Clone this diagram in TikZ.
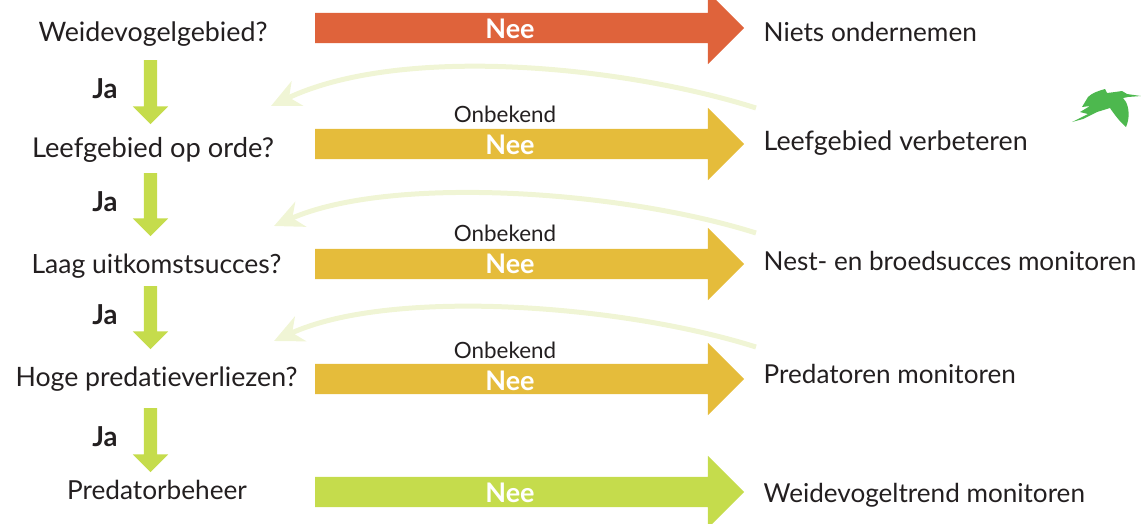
\documentclass[tikz,border=0pt]{standalone}
\usepackage{fontspec}
\setmainfont[Ligatures=NoCommon]{Lato}
\usetikzlibrary{shapes.arrows,arrows.meta}
\definecolor{ink}{HTML}{231F20}
\definecolor{redc}{HTML}{DF633B}
\definecolor{yelc}{HTML}{E5BC3B}
\definecolor{grnc}{HTML}{C5DC4C}
\definecolor{palec}{HTML}{F0F5D5}
\definecolor{birdc}{HTML}{4DB84E}
\tikzset{
  x=1pt,y=-1pt,
  q/.style={anchor=base,text=ink,font=\fontsize{#1}{30}\selectfont,inner sep=0pt},
  ql/.style={anchor=base west,text=ink,font=\fontsize{#1}{30}\selectfont,inner sep=0pt},
  ql/.default=26.1,
  ja/.style={anchor=base,text=ink,font=\fontsize{27.5}{30}\bfseries\selectfont,inner sep=0pt},
  nee/.style={anchor=base,text=white,font=\fontsize{27}{30}\bfseries\selectfont,inner sep=0pt},
  onb/.style={anchor=base,text=ink,font=\fontsize{22.4}{26}\selectfont,inner sep=0pt},
  bigarrow/.style={single arrow,fill=#1,draw=none,anchor=west,inner sep=0pt,outer sep=0pt,
    text height=30pt,text depth=0pt,text width=1pt,
    minimum width=72pt,minimum height=429pt,single arrow head extend=21pt,
    single arrow head indent=0pt,single arrow tip angle=90},
  downarrow/.style={single arrow,fill=grnc,draw=none,anchor=west,rotate=-90,inner sep=0pt,outer sep=0pt,
    text height=13pt,text depth=0pt,text width=1pt,
    minimum width=35pt,single arrow head extend=11pt,single arrow head indent=0pt,single arrow tip angle=90},
  back/.style={draw=palec,line width=5pt,-{Stealth[length=29pt,width=27pt,inset=9pt]}},
}
\begin{document}
\begin{tikzpicture}
\useasboundingbox (0,0) rectangle (1141,523);
\clip (0,0) rectangle (1141,523);
% big arrows
\node[bigarrow=redc] (a1) at (315,28) {};
\node[bigarrow=yelc] (a2) at (315,144) {};
\node[bigarrow=yelc] (a3) at (315,264) {};
\node[bigarrow=yelc] (a4) at (315,379) {};
\node[bigarrow=grnc] (a5) at (315,492) {};
% down arrows
\node[downarrow,minimum height=64pt] (d1) at (150.5,60) {};
\node[downarrow,minimum height=63pt] (d2) at (150.5,173) {};
\node[downarrow,minimum height=63pt] (d3) at (150.5,286) {};
\node[downarrow,minimum height=64pt] (d4) at (150.5,408) {};
% left texts
\node[q=26.8] (q1) at (153,41) {Weidevogelgebied?};
\node[q=27.3] (q2) at (153,157) {Leefgebied op orde?};
\node[q=26.5] (q3) at (156.5,273) {Laag uitkomstsucces?};
\node[q=26.7] (q4) at (156.5,386) {Hoge predatieverliezen?};
\node[q=26.2] (q5) at (157,499) {Predatorbeheer};
% right texts
\node[ql=26.2] (r1) at (763.5,41) {Niets ondernemen};
\node[ql=26.8] (r2) at (763.5,150) {Leefgebied verbeteren};
\node[ql=26.1] (r3) at (763.5,270) {Nest- en broedsucces monitoren};
\node[ql=26.1] (r4) at (763.5,383) {Predatoren monitoren};
\node[ql=26.1] (r5) at (763.5,502) {Weidevogeltrend monitoren};
% labels
\node[ja] (j1) at (105,98) {Ja};
\node[ja] (j2) at (105,211) {Ja};
\node[ja] (j3) at (105,324) {Ja};
\node[ja] (j4) at (105,446) {Ja};
\node[nee] (n1) at (510,38) {Nee};
\node[nee] (n2) at (510,154) {Nee};
\node[nee] (n3) at (510,273) {Nee};
\node[nee] (n4) at (510,390) {Nee};
\node[nee] (n5) at (510,502) {Nee};
\node[onb] (o2) at (505,122) {Onbekend};
\node[onb] (o3) at (505,241) {Onbekend};
\node[onb] (o4) at (505,358) {Onbekend};
% return curves
\coordinate (s1) at (756,108); \coordinate (e1) at (271,106);
\coordinate (s2) at (756,233); \coordinate (e2) at (274,226);
\coordinate (s3) at (756,347); \coordinate (e3) at (274,341);
\draw[back] (s1) .. controls (620,65) and (400,45) .. (e1);
\draw[back] (s2) .. controls (620,190) and (390,175) .. (e2);
\draw[back] (s3) .. controls (620,304) and (390,288) .. (e3);
% bird
\fill[birdc] (1141,96) -- (1127,94) -- (1122,91) -- (1115,92) -- (1107,93) -- (1105,89)
  .. controls (1098,91) and (1092,93) .. (1088,97) -- (1082,107) -- (1090,106) -- (1080,112)
  -- (1088,114) -- (1072,122) -- (1083,119) -- (1097,112) -- (1110,108)
  .. controls (1114,114) and (1120,122) .. (1126,127)
  .. controls (1130,118) and (1129,108) .. (1126,102) -- (1123,98) -- (1128,97) -- cycle;
\end{tikzpicture}
\end{document}
